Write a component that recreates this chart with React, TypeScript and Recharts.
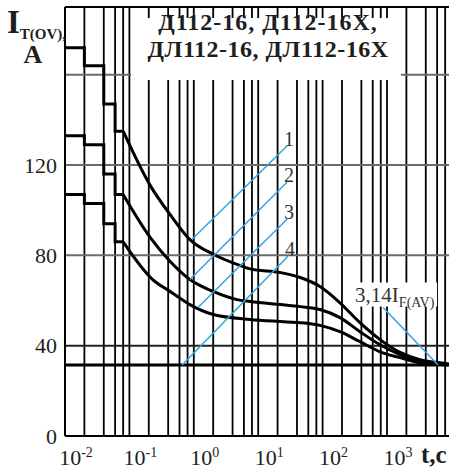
import { LineChart, Line, XAxis, YAxis, ReferenceLine, ReferenceDot } from 'recharts'

const SERIF = "'Liberation Serif', 'Times New Roman', serif"
const BLUE = '#2aa8e0'
const INK = '#1e1e1e'

// grid lines: 1, 2, 4, 6, 8 of every decade
const GRID_T = [0.01, 0.02, 0.04, 0.06, 0.08, 0.1, 0.2, 0.4, 0.6, 0.8, 1, 2, 4, 6, 8, 10, 20, 40, 60, 80,
  100, 200, 400, 600, 800, 1000, 2000, 4000, 6000, 8000]
const GRID_I = [40, 80, 120, 160]
const X_TICKS = [0.01, 0.1, 1, 10, 100, 1000]
const X_EXP = ['-2', '-1', '0', '1', '2', '3']
const Y_TICKS = [0, 40, 80, 120]
const I_MAX = 190
const I_LIMIT = 31.4 // 3,14 I_F(AV)

// stepped part, t = 0.01 .. 0.08 s
const STEP_T = [0.01, 0.02, 0.04, 0.06, 0.08]
const STEP_1 = [172, 164, 147, 135]
const STEP_2 = [133, 129, 116, 107]
const STEP_3 = [107, 103, 94, 86]

// decaying part [t, I]
const CURVE_1: [number, number][] = [[0.08, 135], [0.21, 111], [0.43, 98], [0.87, 87], [2, 80.5], [4.7, 76],
  [7.5, 74], [22, 72.4], [45, 70.2], [91, 66.2], [186, 59], [380, 50.2], [780, 42.7], [1600, 37], [3250, 33.8],
  [6650, 32.4], [10000, 31.8]]
const CURVE_2: [number, number][] = [[0.08, 107], [0.21, 88], [0.43, 77.3], [0.87, 69.3], [2, 64], [4.7, 60.4],
  [7.5, 59.6], [22, 58.2], [45, 57.3], [91, 56], [186, 52.4], [380, 46.2], [780, 40.4], [1600, 36], [3250, 32.9],
  [6650, 32], [10000, 31.6]]
const CURVE_3: [number, number][] = [[0.08, 86], [0.23, 69.3], [0.43, 64], [0.87, 58.2], [2, 53.8], [7.5, 51.6],
  [22, 50.7], [45, 50.2], [91, 49], [186, 46.2], [380, 41.8], [780, 37.3], [1600, 34.7], [3250, 32.4],
  [6650, 31.7], [10000, 31.5]]

// blue helper lines
const LINE_1: [number, number][] = [[0.94, 87.1], [28, 128.4]]
const LINE_2: [number, number][] = [[0.87, 69.3], [28, 112.4]]
const LINE_3: [number, number][] = [[1.16, 56.9], [28, 96]]
const LINE_4: [number, number][] = [[0.66, 31.4], [29, 79.6]]
const LINE_F: [number, number][] = [[870, 56.9], [6200, 31.4]]
const LINE_NAMES = ['1', '2', '3', '4']

const pts = (a: [number, number][]) => a.map(([t, v]) => ({ t, v }))
const steps = (s: number[]) => s.flatMap((v, i) => [{ t: STEP_T[i], v }, { t: STEP_T[i + 1], v }])

function XTick({ x, y, payload }: any) {
  const i = X_TICKS.indexOf(payload.value)
  return (
    <text x={x + 11} y={y + 21} textAnchor="middle" fontFamily={SERIF} fontSize={22} fill={INK}>
      10<tspan dy={-8} fontSize={14}>{X_EXP[i]}</tspan>
    </text>
  )
}

function NumLabel({ viewBox, text }: any) {
  return (
    <text x={viewBox.x + 2} y={viewBox.y} textAnchor="middle" fontFamily={SERIF} fontSize={20} fill="#333">
      {text}
    </text>
  )
}

function LimitLabel({ viewBox }: any) {
  const { x, y } = viewBox
  return (
    <g>
      <rect x={x - 31} y={y - 25} width={85} height={24} fill="#fff" />
      <text x={x - 28} y={y - 6} fontFamily={SERIF} fontSize={21} fill="#333">
        3,14I<tspan dy={5} fontSize={14}>F(AV)</tspan>
      </text>
    </g>
  )
}

export default function App() {
  const curves = [[STEP_1, CURVE_1], [STEP_2, CURVE_2], [STEP_3, CURVE_3]] as const
  const blues = [LINE_1, LINE_2, LINE_3, LINE_4]
  return (
    <div style={{ position: 'absolute', left: 0, top: 0, width: 449, height: 475, overflow: 'hidden', background: '#fff' }}>
      <LineChart width={470} height={475} margin={{ top: 7, right: 18.6, bottom: 0, left: 0 }}>
        <XAxis dataKey="t" type="number" scale="log" domain={[0.01, 10000]} allowDataOverflow ticks={X_TICKS}
          tick={<XTick />} tickLine={false} height={39} axisLine={{ stroke: '#000', strokeWidth: 2 }} />
        <YAxis type="number" domain={[0, I_MAX]} ticks={Y_TICKS} width={65} tickLine={false}
          tick={{ fontSize: 22, fill: INK, fontFamily: SERIF }} axisLine={{ stroke: '#000', strokeWidth: 2 }} />
        {GRID_T.map(t => <ReferenceLine key={t} x={t} stroke="#000" strokeWidth={1.8} />)}
        {GRID_I.map((v, i) => <ReferenceLine key={v} y={v} stroke={i === 0 ? '#222' : '#6a6a6a'} strokeWidth={2} />)}
        <ReferenceLine y={I_MAX} stroke="#000" strokeWidth={2} />
        <ReferenceLine y={I_LIMIT} stroke="#000" strokeWidth={3} />
        {curves.map(([s, c], i) => [
          <Line key={'s' + i} data={steps(s as number[])} dataKey="v" type="linear" stroke="#000" strokeWidth={3}
            dot={false} isAnimationActive={false} />,
          <Line key={'c' + i} data={pts(c as [number, number][])} dataKey="v" type="monotone" stroke="#000"
            strokeWidth={3} dot={false} isAnimationActive={false} />,
        ])}
        {blues.map((b, i) => (
          <Line key={'b' + i} data={pts(b)} dataKey="v" type="linear" stroke={BLUE} strokeWidth={1.5}
            dot={false} isAnimationActive={false} />
        ))}
        <Line data={pts(LINE_F)} dataKey="v" type="linear" stroke={BLUE} strokeWidth={1.5} dot={false}
          isAnimationActive={false} />
        {blues.map((b, i) => (
          <ReferenceDot key={'n' + i} x={b[1][0]} y={b[1][1]} r={0} fill="none" stroke="none"
            label={<NumLabel text={LINE_NAMES[i]} />} />
        ))}
        <ReferenceDot x={LINE_F[0][0]} y={LINE_F[0][1]} r={0} fill="none" stroke="none" label={<LimitLabel />} />
      </LineChart>
      <svg width={449} height={475} style={{ position: 'absolute', left: 0, top: 0, pointerEvents: 'none' }}
        fontFamily={SERIF} fill={INK}>
        <rect x={131} y={18} width={270} height={62} fill="#fff" />
        <text x={268} y={30} textAnchor="middle" fontSize={24} fontWeight="bold" letterSpacing={1}>
          Д112-16, Д112-16Х,
        </text>
        <text x={268} y={57} textAnchor="middle" fontSize={24} fontWeight="bold" letterSpacing={0.5}>
          ДЛ112-16, ДЛ112-16Х
        </text>
        <text x={7} y={33} fontSize={33} fontWeight="bold">I<tspan dy={6} fontSize={15}>T(OV),</tspan></text>
        <text x={33} y={63} textAnchor="middle" fontSize={26} fontWeight="bold">A</text>
        <text x={421} y={463} fontSize={25} fontWeight="bold">t,с</text>
      </svg>
    </div>
  )
}
